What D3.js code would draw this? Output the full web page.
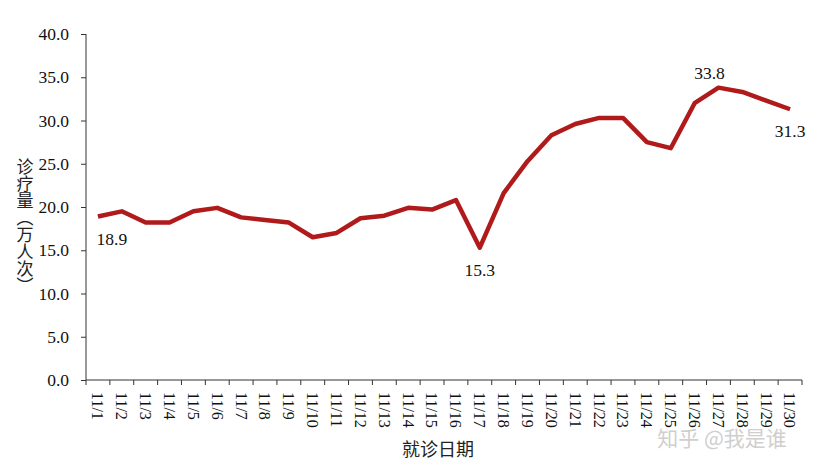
<!DOCTYPE html>
<html>
<head>
<meta charset="utf-8">
<script src="https://cdn.jsdelivr.net/npm/d3@7"></script>
<style>
  body { margin: 0; background: #fff; }
  svg { display: block; }
  .serif { font-family: "Liberation Serif", "Times New Roman", serif; }
  .cjk { font-family: "Noto Sans CJK SC", sans-serif; }
</style>
</head>
<body>
<div id="chart"></div>
<script>
const days = ["11/1", "11/2", "11/3", "11/4", "11/5", "11/6", "11/7", "11/8", "11/9", "11/10",
    "11/11", "11/12", "11/13", "11/14", "11/15", "11/16", "11/17", "11/18", "11/19", "11/20",
    "11/21", "11/22", "11/23", "11/24", "11/25", "11/26", "11/27", "11/28", "11/29", "11/30"];
const visits = [18.9, 19.5, 18.2, 18.2, 19.5, 19.9, 18.8, 18.5, 18.2, 16.5,
    17.0, 18.7, 19.0, 19.9, 19.7, 20.8, 15.3, 21.6, 25.3, 28.3,
    29.6, 30.3, 30.3, 27.5, 26.8, 32.0, 33.8, 33.3, 32.3, 31.3];
const yTicks = [0, 5, 10, 15, 20, 25, 30, 35, 40];
// days that carry a value label, and where the label goes
const labelled = [
    { day: "11/1", pos: "below-right" },
    { day: "11/17", pos: "below" },
    { day: "11/27", pos: "above" },
    { day: "11/30", pos: "below" }
];

const width = 820, height = 471;
const margin = { left: 86, right: 18, top: 34, bottom: 91 };

const svg = d3.select("#chart")
    .append("svg")
    .attr("width", width)
    .attr("height", height);

const x = d3.scaleBand()
    .domain(days)
    .range([margin.left, width - margin.right]);

const y = d3.scaleLinear()
    .domain([0, 40])
    .range([height - margin.bottom, margin.top]);

// y axis
const yAxis = svg.append("g")
    .attr("transform", `translate(${margin.left},0)`)
    .call(d3.axisLeft(y).tickValues(yTicks).tickFormat(d3.format(".1f")).tickSize(5).tickPadding(12));
yAxis.attr("font-family", null).attr("font-size", null);
yAxis.select(".domain").attr("stroke", "#333").attr("d", `M0,${y(40)}V${y(0)}`);
yAxis.selectAll(".tick line").attr("stroke", "#333");
yAxis.selectAll("text")
    .attr("class", "serif")
    .style("font-size", "17.5px")
    .attr("fill", "#111");

// x axis, ticks at band edges
const xAxis = svg.append("g")
    .attr("transform", `translate(0,${y(0)})`);
xAxis.append("line")
    .attr("x1", x.range()[0]).attr("x2", x.range()[1])
    .attr("stroke", "#333");
xAxis.selectAll(".edge")
    .data(days.concat(["end"]))
    .join("line")
    .attr("class", "edge")
    .attr("x1", (d, i) => x.range()[0] + i * x.step())
    .attr("x2", (d, i) => x.range()[0] + i * x.step())
    .attr("y1", 0).attr("y2", 5)
    .attr("stroke", "#333");
xAxis.selectAll(".lbl")
    .data(days)
    .join("text")
    .attr("class", "lbl serif")
    .attr("transform", d => `translate(${x(d) + x.bandwidth() / 2},12) rotate(90)`)
    .attr("dy", "0.35em")
    .style("font-size", "16px")
    .attr("fill", "#111")
    .text(d => d);

// line
const line = d3.line()
    .x((d, i) => x(days[i]) + x.bandwidth() / 2)
    .y(d => y(d));

svg.append("path")
    .datum(visits)
    .attr("d", line)
    .attr("fill", "none")
    .attr("stroke", "#B01A1A")
    .attr("stroke-width", 4.5)
    .attr("stroke-linejoin", "round");

// value labels
svg.selectAll(".val")
    .data(labelled)
    .join("text")
    .attr("class", "val serif")
    .attr("x", d => x(d.day) + x.bandwidth() / 2 + (d.pos === "below-right" ? 14 : d.pos === "above" ? -9 : 0))
    .attr("y", d => {
        const v = visits[days.indexOf(d.day)];
        return d.pos === "above" ? y(v) - 9 : y(v) + 22;
    })
    .attr("text-anchor", "middle")
    .attr("dy", d => d.pos === "above" ? 0 : "0.35em")
    .style("font-size", "17.5px")
    .attr("fill", "#111")
    .text(d => visits[days.indexOf(d.day)].toFixed(1));

// axis titles
svg.append("text")
    .attr("class", "cjk")
    .attr("x", 25)
    .attr("y", 158)
    .style("writing-mode", "vertical-rl")
    .style("font-size", "17px")
    .attr("fill", "#222")
    .text("诊疗量（万人次）");

svg.append("text")
    .attr("class", "cjk")
    .attr("x", 438)
    .attr("y", 450)
    .attr("text-anchor", "middle")
    .attr("dy", "0.35em")
    .style("font-size", "18px")
    .attr("fill", "#222")
    .text("就诊日期");

// watermark
svg.append("text")
    .attr("class", "cjk")
    .attr("x", 722)
    .attr("y", 439)
    .attr("text-anchor", "middle")
    .attr("dy", "0.35em")
    .style("font-size", "21px")
    .attr("fill", "#cfcfcf")
    .text("知乎 @我是谁");
</script>
</body>
</html>
